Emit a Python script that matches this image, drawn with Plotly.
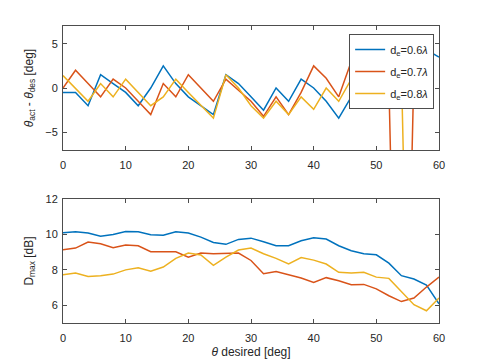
import plotly.graph_objects as go
from plotly.subplots import make_subplots

# desired angle [deg]
theta_des = list(range(0, 62, 2))

# pointing error theta_act - theta_des [deg]
err_06 = [-0.5, -0.5, -2.0, 1.5, 0.5, -0.5, -2.0, 0.0, 2.5, 0.5, -1.0, -2.0, -3.0, 1.5, 0.5,
          -1.0, -2.5, 0.0, -1.5, 1.0, 0.0, -1.5, -3.4, -1.0, 1.5, 0.5, 2.5, 1.0, 3.0, 4.3, 3.5]
err_07 = [0.0, 2.0, 0.5, -1.0, 1.0, 0.0, -1.5, -3.0, 0.5, -1.0, 1.5, 0.0, -1.5, 1.0, -0.2,
          -1.5, -3.2, -1.0, -3.0, -0.5, 2.5, 1.1, -1.0, 3.0, 1.0, 2.5, 0.5, -60.0, 2.0, None, None]
err_08 = [1.4, 0.0, -1.5, 0.5, -1.0, 1.0, -0.5, -2.0, -1.0, 1.0, -0.5, -2.0, -3.4, 1.5, 0.0,
          -2.0, -3.4, -1.5, -3.0, -1.0, -2.4, 0.0, -1.5, 1.0, -0.5, 1.5, 0.0, 2.0, -60.0, None, None]

# maximum directivity [dB]
dmax_06 = [10.1, 10.15, 10.08, 9.9, 10.0, 10.17, 10.15, 9.98, 9.96, 10.15, 10.08, 9.85, 9.55, 9.44, 9.72,
           9.79, 9.59, 9.36, 9.36, 9.64, 9.81, 9.74, 9.36, 9.08, 8.91, 8.85, 8.38, 7.67, 7.48, 7.14, 6.08]
dmax_07 = [9.14, 9.23, 9.57, 9.47, 9.25, 9.4, 9.36, 9.02, 9.02, 9.02, 8.72, 8.95, 8.91, 8.95, 8.95,
           8.53, 7.78, 7.91, 7.72, 7.54, 7.29, 7.56, 7.38, 7.16, 7.18, 6.93, 6.54, 6.21, 6.41, 7.03, 7.59]
dmax_08 = [7.72, 7.82, 7.63, 7.67, 7.76, 8.0, 8.12, 7.93, 8.16, 8.65, 8.95, 8.84, 8.25, 8.72, 9.12,
           9.23, 8.91, 8.65, 8.34, 8.7, 8.55, 8.33, 7.86, 7.82, 7.86, 7.59, 7.52, 6.78, 6.03, 5.69, 6.41]

names = ['d<sub>e</sub>=0.6<i>λ</i>', 'd<sub>e</sub>=0.7<i>λ</i>', 'd<sub>e</sub>=0.8<i>λ</i>']
colors = ['#0072BD', '#D95319', '#EDB120']

fig = make_subplots(rows=2, cols=1, vertical_spacing=0.165)

for i, (err, dmax, name, c) in enumerate(zip([err_06, err_07, err_08], [dmax_06, dmax_07, dmax_08], names, colors)):
    fig.add_trace(go.Scatter(x=theta_des, y=err, name=name, mode='lines', legendgroup=str(i),
                             line=dict(color=c, width=1.5)), row=1, col=1)
    fig.add_trace(go.Scatter(x=theta_des, y=dmax, name=name, mode='lines', showlegend=False,
                             legendgroup=str(i), line=dict(color=c, width=1.5)), row=2, col=1)

axis_style = dict(showline=True, linecolor='#4d4d4d', linewidth=1, mirror='ticks',
                  ticks='inside', ticklen=4, tickcolor='#4d4d4d', showgrid=False, zeroline=False,
                  automargin=False, tickfont=dict(size=11, color='#262626'))

fig.update_xaxes(range=[0, 60], dtick=10, ticklabelstandoff=5, **axis_style)
fig.update_yaxes(ticklabelstandoff=2, **axis_style)
fig.update_yaxes(range=[-7, 7], tickvals=[-5, 0, 5], row=1, col=1,
                 title=dict(text='<i>θ</i><sub>act</sub> - <i>θ</i><sub>des</sub> [deg]',
                            font=dict(size=12, color='#262626'), standoff=9))
fig.update_yaxes(range=[5, 12], tickvals=[6, 8, 10, 12], row=2, col=1,
                 title=dict(text='D<sub>max</sub> [dB]', font=dict(size=12, color='#262626'), standoff=9))
fig.update_xaxes(row=2, col=1, title=dict(text='<i>θ</i> desired [deg]',
                                          font=dict(size=12, color='#262626'), standoff=4))

# page body adds an 8px margin, so shift the plot up/left by that much
fig.update_layout(
    width=485, height=363,
    margin=dict(l=55, r=54, t=18, b=48),
    paper_bgcolor='white', plot_bgcolor='white',
    font=dict(family='Liberation Sans, Arial, sans-serif', color='#262626'),
    showlegend=True,
    legend=dict(x=0.761, y=0.973, xanchor='left', yanchor='top', itemwidth=30,
                tracegroupgap=3, entrywidth=38, entrywidthmode='pixels',
                bgcolor='white', bordercolor='#4d4d4d', borderwidth=1,
                font=dict(size=11, color='#262626')),
)

fig.write_html("out.html")
